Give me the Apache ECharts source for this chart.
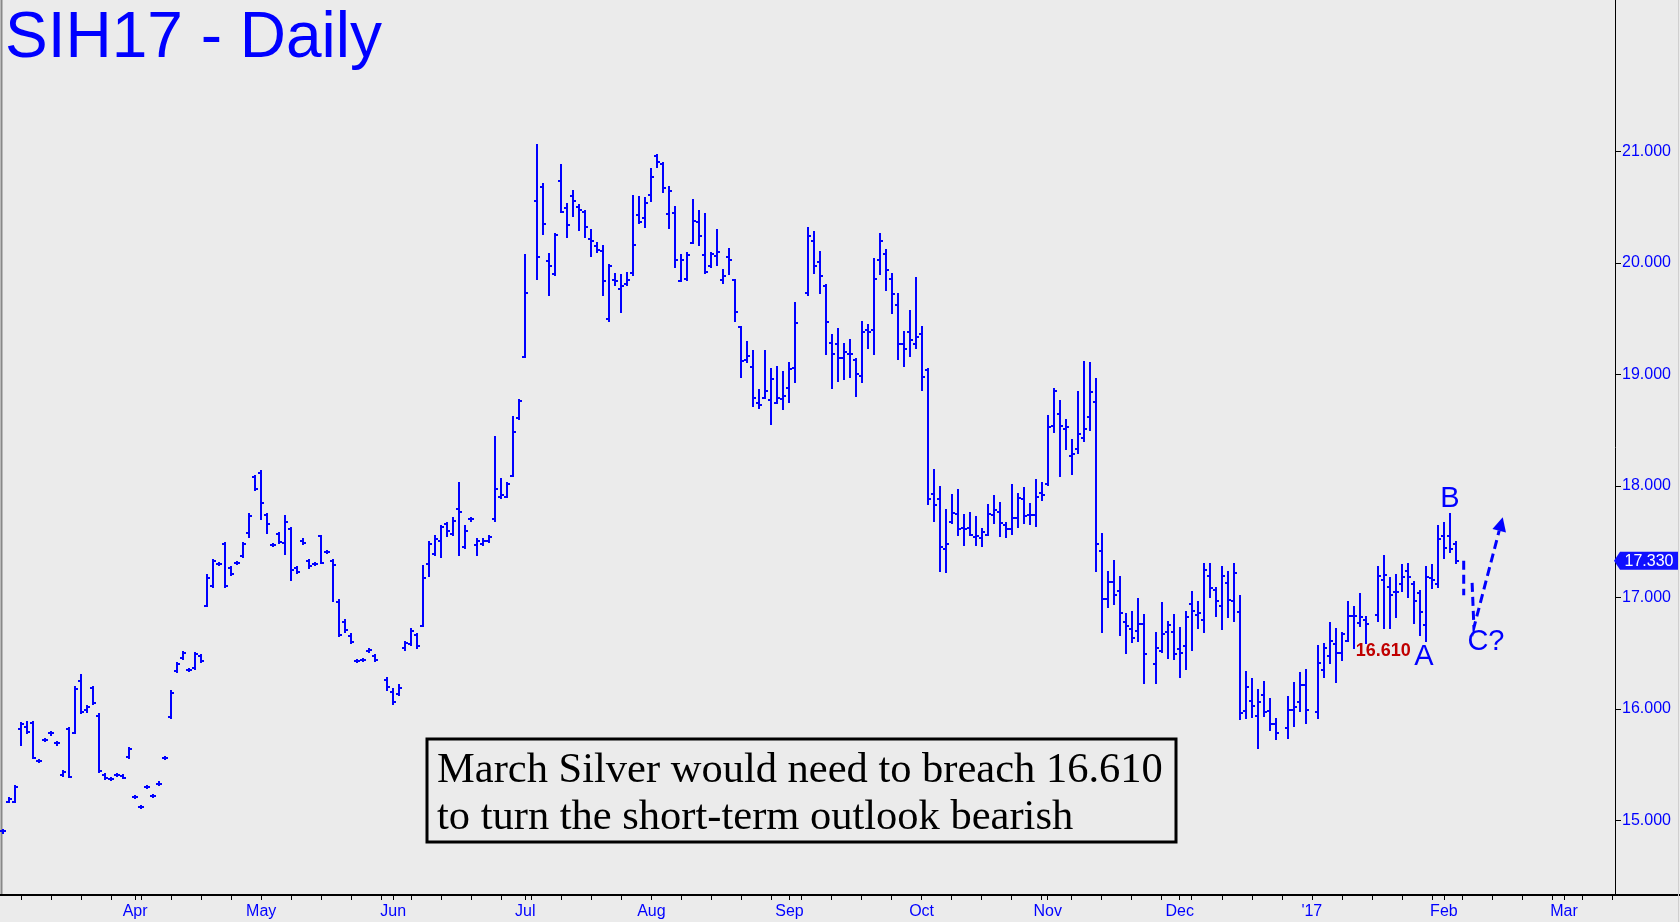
<!DOCTYPE html>
<html><head><meta charset="utf-8">
<script src="https://cdn.jsdelivr.net/npm/echarts@6/dist/echarts.min.js"></script>
<style>html,body{margin:0;padding:0;background:#ebebeb;}#c{width:1680px;height:922px;}</style>
</head><body><div id="c"></div>
<script>
// ---------- data ----------
const firstDay = '2016-03-02';           // first weekday slot on the axis
const slotCount = 269;                   // weekday slots shown
const monthLabels = ["'17","Feb","Mar","Apr","May","Jun","Jul","Aug","Sep","Oct","Nov","Dec"];
const yTickValues = [15,16,17,18,19,20,21];

const open = [
14.90,15.16,15.16,15.82,15.84,15.87,15.53,15.72,15.78,15.69,
15.41,15.82,15.78,16.25,15.99,16.19,15.94,15.41,15.37,15.41,
15.40,15.57,15.21,15.12,15.30,15.22,15.33,15.56,15.93,16.34,
16.46,16.35,16.37,16.47,16.92,17.10,17.30,17.48,17.26,17.31,
17.37,17.58,18.08,18.12,17.74,17.47,17.57,17.49,17.61,17.26,
17.51,17.33,17.30,17.55,17.41,17.33,16.96,16.78,16.65,16.43,
16.44,16.52,16.47,null,16.26,16.15,16.13,16.55,16.58,16.66,
16.74,17.30,17.39,17.51,17.66,17.57,17.79,17.45,17.70,17.47,
17.48,17.51,17.70,17.90,17.90,18.09,18.61,19.16,null,20.56,
20.68,20.02,19.90,20.74,20.49,20.60,20.50,20.46,20.22,20.15,
20.11,19.50,19.85,19.77,19.81,19.91,20.43,20.40,20.61,20.96,
20.89,20.44,20.45,19.84,19.86,20.18,20.37,20.07,19.97,20.06,
19.85,20.05,19.85,19.43,19.13,19.07,18.74,18.79,18.77,18.74,
18.78,18.88,19.06,null,19.73,20.20,20.01,19.79,19.28,19.27,
19.15,19.18,19.13,18.99,19.40,19.40,20.03,20.08,19.86,19.62,
19.27,19.38,19.27,19.36,19.04,17.93,17.88,17.43,17.68,17.75,
17.62,17.62,17.54,17.53,17.56,17.74,17.77,17.65,17.61,17.71,
17.88,17.74,17.74,17.94,18.02,18.54,18.65,18.51,18.27,18.33,
18.43,18.62,18.75,17.42,16.99,17.14,17.06,16.78,16.72,16.70,
16.76,null,16.40,16.52,16.69,16.69,16.54,16.56,16.94,16.84,
16.80,17.19,17.07,16.92,17.13,16.97,16.87,15.98,16.07,15.94,
16.12,15.98,15.86,null,15.83,15.99,16.06,16.21,null,15.97,
16.35,16.47,16.58,16.50,16.61,16.83,16.77,16.80,null,16.84,
17.16,17.09,17.05,17.12,17.24,17.12,17.04,16.75,17.17,17.12,
17.55,17.55,17.48];
const high = [
14.91,15.20,15.31,15.87,15.88,15.88,15.54,15.73,15.79,15.70,
15.44,15.83,16.20,16.30,16.03,16.20,15.95,15.42,15.38,15.42,
15.41,15.65,15.22,15.13,15.31,15.23,15.34,15.57,16.16,16.41,
16.51,16.36,16.50,16.48,17.20,17.34,17.31,17.49,17.27,17.32,
17.49,17.75,18.09,18.13,17.75,17.48,17.58,17.73,17.62,17.27,
17.52,17.34,17.31,17.55,17.42,17.34,16.98,16.80,16.67,16.44,
16.45,16.54,16.48,null,16.28,16.18,16.21,16.60,16.72,16.67,
17.28,17.50,17.55,17.64,17.67,17.71,18.03,17.64,17.71,17.52,
17.52,17.55,18.44,18.06,18.03,18.62,18.77,20.07,null,21.06,
20.71,20.08,20.26,20.88,20.53,20.65,20.52,20.47,20.30,20.18,
20.15,19.98,19.90,19.89,19.91,20.60,20.59,20.58,20.84,20.97,
20.90,20.68,20.50,20.07,20.09,20.57,20.47,20.44,20.09,20.30,
19.94,20.13,19.85,19.43,19.29,19.21,18.86,19.21,19.05,19.07,
19.02,19.10,19.64,null,20.31,20.28,20.10,19.80,19.35,19.41,
19.27,19.31,19.14,19.47,19.44,20.04,20.26,20.12,19.90,19.72,
19.38,19.57,19.87,19.43,19.05,18.14,17.99,17.78,17.92,17.96,
17.74,17.76,17.72,17.61,17.83,17.91,17.85,17.67,18.01,17.93,
17.98,17.84,18.05,18.03,18.63,18.87,18.76,18.59,18.41,18.84,
19.11,19.10,18.96,17.57,17.23,17.33,17.18,16.85,16.87,16.99,
16.84,null,16.68,16.95,16.78,16.84,16.73,16.87,17.05,16.96,
17.30,17.30,17.08,17.27,17.23,17.30,17.01,16.33,16.27,16.17,
16.24,16.09,15.91,null,16.11,16.23,16.32,16.35,null,16.56,
16.58,16.77,16.72,16.68,16.96,16.91,17.03,16.82,null,17.27,
17.37,17.17,17.20,17.29,17.30,17.14,17.06,17.27,17.29,17.64,
17.67,17.75,17.50];
const low = [
14.89,15.16,15.16,15.68,15.78,15.56,15.52,15.71,15.77,15.68,
15.40,15.39,15.78,15.96,15.97,16.04,15.43,15.37,15.36,15.40,
15.38,15.56,15.20,15.11,15.29,15.21,15.32,15.55,15.92,16.33,
16.45,16.34,16.36,16.42,16.92,17.09,17.29,17.09,17.20,17.30,
17.36,17.54,17.96,17.70,17.58,17.46,17.49,17.39,17.16,17.22,
17.48,17.26,17.29,17.31,17.40,16.97,16.65,16.69,16.59,16.42,
16.43,16.51,16.43,null,16.17,16.04,16.12,16.53,16.57,16.55,
16.74,17.19,17.38,17.36,17.55,17.56,17.38,17.44,17.69,17.38,
17.47,17.50,17.69,17.89,17.90,18.09,18.60,19.16,null,19.86,
20.26,19.71,19.89,20.46,20.23,20.42,20.30,20.23,20.06,20.10,
19.71,19.48,19.80,19.56,19.80,19.89,20.36,20.32,20.56,20.86,
20.64,20.31,19.96,19.84,19.85,20.18,20.16,19.91,19.96,19.98,
19.82,19.90,19.48,18.98,19.11,18.72,18.70,18.79,18.56,18.74,
18.69,18.75,18.93,null,19.71,19.91,19.73,19.18,18.88,18.94,
18.96,18.98,18.81,18.93,19.24,19.18,19.90,19.76,19.55,19.14,
19.08,19.17,19.24,18.86,17.84,17.69,17.24,17.23,17.67,17.56,
17.47,17.56,17.47,17.46,17.56,17.67,17.55,17.54,17.57,17.63,
17.67,17.66,17.64,17.87,18.01,18.48,18.09,18.33,18.11,18.30,
18.40,18.50,17.24,16.69,16.91,16.94,16.66,16.50,16.60,16.61,
16.23,null,16.23,16.51,16.46,16.45,16.29,16.36,16.53,16.73,
16.69,17.00,16.83,16.72,16.82,16.79,15.91,15.92,15.93,15.65,
15.94,15.81,15.73,null,15.74,15.85,15.98,15.87,null,15.92,
16.29,16.41,16.24,16.44,16.61,16.55,16.74,16.59,null,16.79,
16.73,16.73,16.82,17.06,17.00,16.77,16.66,16.61,17.08,17.09,
17.35,17.41,17.31];
const close = [
14.90,15.19,15.30,15.86,15.79,15.56,15.53,15.72,15.78,15.69,
15.43,15.39,16.18,15.97,16.02,16.05,15.44,15.38,15.37,15.41,
15.38,15.64,15.21,15.12,15.30,15.22,15.33,15.56,16.14,16.40,
16.50,16.35,16.49,16.43,17.17,17.33,17.30,17.10,17.21,17.31,
17.48,17.73,17.97,17.85,17.66,17.47,17.50,17.68,17.25,17.23,
17.49,17.28,17.30,17.31,17.41,17.29,16.66,16.71,16.60,16.43,
16.44,16.53,16.44,null,16.20,16.06,16.19,16.59,16.70,16.56,
17.17,17.48,17.52,17.63,17.60,17.69,17.77,17.60,17.70,17.51,
17.51,17.54,17.97,17.92,18.02,18.48,18.76,19.73,null,20.05,
20.35,19.97,20.25,20.46,20.34,20.56,20.48,20.32,20.20,20.12,
19.84,19.97,19.84,19.79,19.85,20.16,20.37,20.54,20.77,20.91,
20.67,20.65,20.03,20.03,20.07,20.38,20.24,19.92,20.08,20.10,
19.88,20.03,19.56,19.12,19.17,18.79,18.73,18.85,18.96,18.79,
18.81,19.05,19.46,null,20.24,19.97,19.88,19.47,19.18,19.15,
19.20,19.18,19.00,19.38,19.38,19.86,20.20,19.94,19.72,19.27,
19.23,19.31,19.34,18.98,17.88,17.83,17.45,17.48,17.76,17.61,
17.61,17.56,17.55,17.59,17.75,17.78,17.67,17.61,17.71,17.89,
17.73,17.74,17.90,17.92,18.53,18.85,18.54,18.53,18.29,18.47,
18.51,18.84,17.48,16.99,17.14,17.02,16.86,16.74,16.64,16.76,
16.49,null,16.55,16.67,16.75,16.49,16.50,16.82,16.88,16.86,
17.25,17.08,16.97,17.19,16.98,17.22,15.96,16.20,16.03,16.06,
15.97,15.86,15.78,null,15.99,16.02,16.21,15.99,null,16.41,
16.55,16.61,16.50,16.67,16.83,16.83,16.82,16.76,null,17.19,
17.20,17.02,17.05,17.18,17.18,16.97,16.87,17.18,17.16,17.52,
17.44,17.43,17.33];

// hand-drawn projection (slot index, price)
const projectionA = [[243.3, 17.33], [243.3, 17.02]];
const projectionB = [[244.7, 17.13], [245.0, 16.73], [249.8, 17.72]];
const waveLabels = [
  {text: 'A', idx: 237, val: 16.61},
  {text: 'B', idx: 241, val: 17.75},
  {text: 'C?', idx: 245, val: 16.73}
];
const breachLevel = {idx: 237, val: 16.61, text: '16.610'};
const titleText = 'SIH17 - Daily';
const noteLines = ['March Silver would need to breach 16.610', 'to turn the short-term outlook bearish'];

// ---------- build ----------
const BLUE = '#0000ff';
const cats = [];
(function(){
  const d = new Date(firstDay + 'T00:00:00Z');
  while (cats.length < slotCount) {
    const wd = d.getUTCDay();
    if (wd !== 0 && wd !== 6) cats.push(d.toISOString().slice(0, 10));
    d.setUTCDate(d.getUTCDate() + 1);
  }
})();
const isMonthStart = i => i > 0 && cats[i].slice(5, 7) !== cats[i - 1].slice(5, 7);
const isMonday = i => new Date(cats[i] + 'T00:00:00Z').getUTCDay() === 1;

const rows = [];
for (let i = 0; i < open.length; i++) {
  if (open[i] == null) continue;
  rows.push([i, open[i], high[i], low[i], close[i]]);
}
const lastClose = close[close.length - 1];

function pt(api, x, v) {
  const i0 = Math.floor(x), t = x - i0;
  const a = api.coord([i0, v]), b = api.coord([i0 + 1, v]);
  return [a[0] + (b[0] - a[0]) * t, a[1]];
}

const chart = echarts.init(document.getElementById('c'), null, {renderer: 'canvas'});
chart.setOption({
  animation: false,
  backgroundColor: '#ebebeb',
  grid: {left: 0, right: 65, top: 0, bottom: 27},
  xAxis: {
    type: 'category', data: cats, boundaryGap: true,
    axisLine: {show: true, lineStyle: {color: '#000', width: 2}},
    axisTick: {show: true, alignWithLabel: true, length: 5, lineStyle: {color: '#000', width: 1},
      interval: (idx) => isMonday(idx) || isMonthStart(idx)},
    axisLabel: {
      interval: (idx) => isMonthStart(idx),
      formatter: (v) => monthLabels[parseInt(v.slice(5, 7), 10) - 1],
      color: BLUE, fontSize: 16, margin: 9,
      fontFamily: "'Liberation Sans Narrow','Arial Narrow','Liberation Sans',Arial,sans-serif"
    },
    splitLine: {show: false}
  },
  yAxis: {
    type: 'value', position: 'right', min: 14.33, max: 22.36, splitNumber: 8, scale: true,
    axisLine: {show: true, lineStyle: {color: '#000', width: 1}},
    axisTick: {show: true, length: 6, lineStyle: {color: '#000'}, customValues: yTickValues},
    axisLabel: {
      customValues: yTickValues,
      formatter: (v) => (yTickValues.indexOf(Math.round(v * 1000) / 1000) >= 0 ? v.toFixed(3) : ''),
      color: BLUE, fontSize: 16, margin: 7,
      fontFamily: "'Liberation Sans',Arial,sans-serif"
    },
    splitLine: {show: false}
  },
  series: [
    {
      type: 'custom', name: 'SIH17', data: rows,
      encode: {x: 0, y: [1, 2, 3, 4]},
      renderItem: function (params, api) {
        const i = api.value(0);
        const pH = api.coord([i, api.value(2)]);
        const pL = api.coord([i, api.value(3)]);
        const pO = api.coord([i, api.value(1)]);
        const pC = api.coord([i, api.value(4)]);
        const x = Math.round(pH[0]);
        const yH = Math.round(pH[1]), yL = Math.round(pL[1]);
        return {type: 'group', children: [
          {type: 'rect', shape: {x: x - 1, y: yH - 1, width: 2, height: Math.max(yL - yH, 0) + 2}, style: {fill: BLUE}},
          {type: 'rect', shape: {x: x - 3, y: Math.round(pO[1]) - 1, width: 2, height: 2}, style: {fill: BLUE}},
          {type: 'rect', shape: {x: x + 1, y: Math.round(pC[1]) - 1, width: 2, height: 2}, style: {fill: BLUE}}
        ]};
      }
    },
    {
      type: 'custom', name: 'annotations', data: [[0, lastClose]], clip: false, silent: true, z: 5,
      encode: {x: 0, y: 1},
      renderItem: function (params, api) {
        const cs = params.coordSys;
        const kids = [];
        const pa = projectionA.map(p => pt(api, p[0], p[1]));
        const pb = projectionB.map(p => pt(api, p[0], p[1]));
        const tip = pb[pb.length - 1], prev = pb[pb.length - 2];
        const ang = Math.atan2(tip[1] - prev[1], tip[0] - prev[0]);
        const headLen = 14, headW = 7;
        const base = [tip[0] - headLen * Math.cos(ang), tip[1] - headLen * Math.sin(ang)];
        const pbLine = pb.slice(0, -1).concat([base]);
        kids.push({type: 'polyline', shape: {points: pa}, style: {stroke: BLUE, lineWidth: 3, lineDash: [9, 5], fill: null}});
        kids.push({type: 'polyline', shape: {points: pbLine}, style: {stroke: BLUE, lineWidth: 3, lineDash: [9, 5], fill: null}});
        kids.push({type: 'polygon', shape: {points: [
          tip,
          [base[0] + headW * Math.sin(ang), base[1] - headW * Math.cos(ang)],
          [base[0] - headW * Math.sin(ang), base[1] + headW * Math.cos(ang)]
        ]}, style: {fill: BLUE}});
        waveLabels.forEach(w => {
          const p = api.coord([w.idx, w.val]);
          let dx = 0, dy = 0;
          if (w.text === 'A') { dx = -2; dy = 16; }
          else if (w.text === 'B') { dx = 0; dy = -15; }
          else { dx = 12; dy = 14; }
          kids.push({type: 'text', x: p[0] + dx, y: p[1] + dy, style: {
            text: w.text, fill: BLUE, fontSize: 29, align: 'center', verticalAlign: 'middle',
            fontFamily: "'Liberation Sans',Arial,sans-serif"}});
        });
        const bp = api.coord([breachLevel.idx, breachLevel.val]);
        kids.push({type: 'text', x: bp[0] - 15, y: bp[1] + 10, style: {
          text: breachLevel.text, fill: '#c00000', fontSize: 18, fontWeight: 'bold', align: 'right', verticalAlign: 'middle',
          fontFamily: "'Liberation Sans',Arial,sans-serif"}});
        const ty = api.coord([0, api.value(1)])[1];
        const ax = cs.x + cs.width;
        kids.push({type: 'polygon', shape: {points: [[ax - 1, ty], [ax + 5, ty - 9], [ax + 63, ty - 9], [ax + 63, ty + 9], [ax + 5, ty + 9]]},
          style: {fill: '#1010ff'}});
        kids.push({type: 'text', x: ax + 34, y: ty + 0.5, style: {
          text: api.value(1).toFixed(3), fill: '#ffffff', fontSize: 16, align: 'center', verticalAlign: 'middle',
          fontFamily: "'Liberation Sans',Arial,sans-serif"}});
        return {type: 'group', children: kids};
      }
    }
  ],
  graphic: [
    {type: 'text', x: 5, y: 39, style: {text: titleText, fill: BLUE, fontSize: 64, verticalAlign: 'middle',
      fontFamily: "'Liberation Sans',Arial,sans-serif"}},
    {type: 'rect', shape: {x: 427, y: 739, width: 749, height: 103}, style: {fill: null, stroke: '#000', lineWidth: 3}},
    {type: 'text', x: 437, y: 771, style: {text: noteLines[0], fill: '#000', fontSize: 42.5, verticalAlign: 'middle',
      fontFamily: "'Liberation Serif','Times New Roman',serif"}},
    {type: 'text', x: 437, y: 818, style: {text: noteLines[1], fill: '#000', fontSize: 42.5, verticalAlign: 'middle',
      fontFamily: "'Liberation Serif','Times New Roman',serif"}},
    {type: 'line', shape: {x1: 1615, y1: 895, x2: 1680, y2: 895}, style: {stroke: '#000', lineWidth: 2}},
    {type: 'line', shape: {x1: 1.5, y1: 0, x2: 1.5, y2: 895}, style: {stroke: '#888', lineWidth: 2}},
    {type: 'line', shape: {x1: 1678.5, y1: 0, x2: 1678.5, y2: 922}, style: {stroke: '#cfcfcf', lineWidth: 1}}
  ]
});
</script>
</body></html>
